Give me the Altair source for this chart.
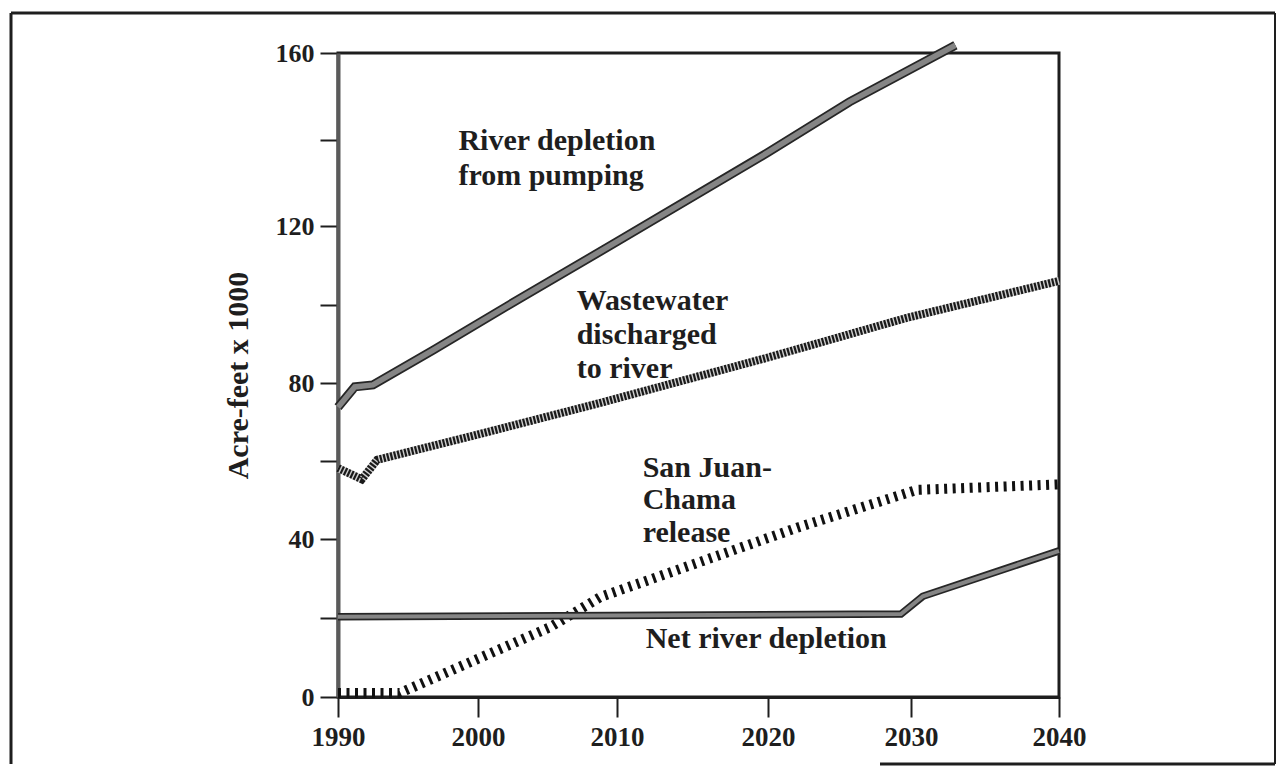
import altair as alt
import pandas as pd

# ---------------- data ----------------
pump_years = [1990, 1991.2, 1992.5, 1996.8, 2003, 2010, 2020, 2025.7, 2033]
pump_vals = [73.8, 79.0, 79.5, 88.4, 101.5, 116, 137, 148.7, 161.8]

waste_years = [1990, 1991.7, 1992.8, 2000, 2008.8, 2020, 2029.7, 2040]
waste_vals = [58.2, 55.3, 60.3, 66.8, 74.9, 86.5, 96.6, 106]

sj_years = [1990, 1994.4, 2005.2, 2008.8, 2022.2, 2030.4, 2040]
sj_vals = [1, 1, 17.7, 25.3, 43.1, 52.6, 54]

net_years = [1990, 2029.3, 2030.8, 2040]
net_vals = [20.3, 21, 25.5, 37]

x_ticks = [1990, 2000, 2010, 2020, 2030, 2040]
y_ticks = [0, 20, 40, 60, 80, 100, 120, 140, 160]
y_labeled = [0, 40, 80, 120, 160]

label_texts = ["River depletion\nfrom pumping", "Wastewater\ndischarged\nto river",
               "San Juan-\nChama\nrelease", "Net river depletion"]
label_years = [1998.6, 2007.1, 2011.7, 2011.9]
label_vals = [137.6, 98.6, 55.9, 12.4]
label_line_heights = [35, 34, 32.5, 34]

# ---------------- layout (hand-drawn axis spacing) ----------------
W, H = 721, 644
X_RANGE = [0, 140, 279, 430, 573, 721]
Y_RANGE = [644, 486, 330, 173, 0]
FONT = "Liberation Serif"
INK = "#1e1e1e"


def frame(yrs, vals):
    return pd.DataFrame({"year": yrs, "value": vals})


xs = alt.Scale(domain=x_ticks, range=X_RANGE, nice=False, zero=False)
ys = alt.Scale(domain=y_labeled, range=Y_RANGE, nice=False, zero=False)

X = alt.X("year:Q", scale=xs,
          axis=alt.Axis(values=x_ticks, format="d", title=None, grid=False,
                        tickSize=20, tickWidth=2, tickColor=INK,
                        domainColor=INK, domainWidth=3,
                        labelFont=FONT, labelFontSize=27, labelFontWeight="bold",
                        labelColor=INK, labelPadding=7, labelFlush=False,
                        labelOverlap=False))
Y = alt.Y("value:Q", scale=ys,
          axis=alt.Axis(values=y_ticks, format="d", grid=False,
                        labelExpr="datum.value % 40 == 0 ? datum.label : ''",
                        title="Acre-feet x 1000", titleFont=FONT, titleFontSize=30,
                        titleFontWeight="bold", titleColor=INK, titlePadding=22,
                        tickSize=18, tickWidth=2, tickColor=INK,
                        domainColor="#5a5a5a", domainWidth=4,
                        labelFont=FONT, labelFontSize=26, labelFontWeight="bold",
                        labelColor=INK, labelPadding=6, labelFlush=False,
                        labelOverlap=False))

one = pd.DataFrame({"k": [0]})

# outer frame (decoration)
frame_top = alt.Chart(one).mark_rule(color=INK, strokeWidth=3).encode(
    x=alt.value(-327), x2=alt.value(937), y=alt.value(-40))
frame_left = alt.Chart(one).mark_rule(color=INK, strokeWidth=3).encode(
    x=alt.value(-327), y=alt.value(-40), y2=alt.value(711))
frame_right = alt.Chart(one).mark_rule(color=INK, strokeWidth=2).encode(
    x=alt.value(937), y=alt.value(-40), y2=alt.value(711))
frame_bottom = alt.Chart(one).mark_rule(color=INK, strokeWidth=3).encode(
    x=alt.value(542), x2=alt.value(937), y=alt.value(711))

# River depletion from pumping: thick grey band with dark edges
pump_df = frame(pump_years, pump_vals)
pump_out = alt.Chart(pump_df).mark_line(color="#262626", strokeWidth=9, strokeCap="butt").encode(x=X, y=Y)
pump_in = alt.Chart(pump_df).mark_line(color="#858585", strokeWidth=5.5, strokeCap="butt").encode(x=X, y=Y)

# Wastewater: fine hatched band
waste_df = frame(waste_years, waste_vals)
waste_base = alt.Chart(waste_df).mark_line(color="#cfcfcf", strokeWidth=8, strokeCap="butt").encode(x=X, y=Y)
waste_hatch = alt.Chart(waste_df).mark_line(color="#1a1a1a", strokeWidth=8, strokeCap="butt",
                                            strokeDash=[2.2, 1.4]).encode(x=X, y=Y)

# San Juan-Chama: coarse hatch
sj_df = frame(sj_years, sj_vals)
sj_line = alt.Chart(sj_df).mark_line(color="#111111", strokeWidth=10, strokeCap="butt",
                                     strokeDash=[3, 5.5]).encode(x=X, y=Y)

# Net river depletion
net_df = frame(net_years, net_vals)
net_out = alt.Chart(net_df).mark_line(color="#262626", strokeWidth=7.5, strokeCap="butt").encode(x=X, y=Y)
net_in = alt.Chart(net_df).mark_line(color="#858585", strokeWidth=4, strokeCap="butt").encode(x=X, y=Y)

# text labels
label_layers = []
for t, yr, v, lh in zip(label_texts, label_years, label_vals, label_line_heights):
    d = pd.DataFrame({"year": [yr], "value": [v], "txt": [t]})
    label_layers.append(
        alt.Chart(d).mark_text(font=FONT, fontSize=30, fontWeight="bold", color=INK,
                               align="left", baseline="alphabetic", lineBreak="\n",
                               lineHeight=lh).encode(x=X, y=Y, text="txt:N"))

chart = alt.layer(
    pump_out, pump_in, waste_base, waste_hatch, sj_line, net_out, net_in,
    *label_layers,
    frame_top, frame_left, frame_right, frame_bottom,
).properties(
    width=W, height=H,
    autosize=alt.AutoSizeParams(type="none"),
    padding={"left": 330, "top": 45, "right": 217, "bottom": 69},
    background="white",
).configure_view(stroke=INK, strokeWidth=3)

chart.save("out.html", embed_options={"renderer": "svg", "actions": False})
